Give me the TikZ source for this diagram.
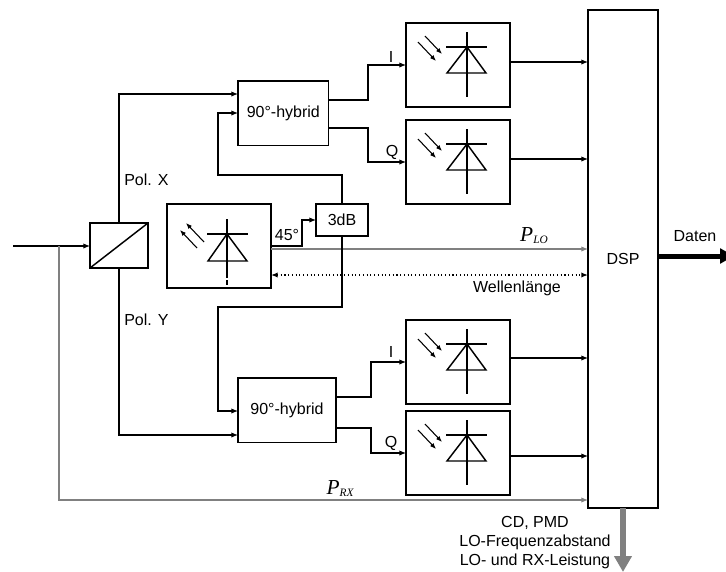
\documentclass[tikz,border=0pt]{standalone}
\usepackage{fontspec}
\setmainfont{Liberation Sans}
\newfontfamily\timesfont{Liberation Serif}
\usetikzlibrary{arrows.meta,positioning}
\newcommand{\powlab}[2]{{\timesfont\itshape\fontsize{16}{16}\selectfont #1\fontsize{8.5}{8.5}\selectfont\raisebox{-1.5pt}{#2}}}
\tikzset{
  rxdiode/.pic={
    \draw[diode] (61,9) -- (61,74);
    \draw[diode] (40,24) -- (81,24);
    \draw[diode] (61,24) -- (41,50) -- (80,50) -- cycle;
    \draw[ray] (19,13) -- (36,31);
    \draw[ray] (12,19) -- (30,38);
  },
  lodiode/.pic={
    \draw[diode] (60,15) -- (60,74);
    \draw[diode] (60,76) -- (60,81);
    \draw[diode] (40,30) -- (81,30);
    \draw[diode] (60,30) -- (41,57) -- (80,57) -- cycle;
    \draw[ray] (37,38) -- (19,19);
    \draw[ray] (30,44) -- (13,26);
  }
}
\begin{document}
\begin{tikzpicture}[
  x=0.75pt, y=-0.75pt,
  font=\fontsize{12}{14.25}\selectfont,
  box/.style={draw, line width=1.1pt, inner sep=0pt, outer sep=0pt, align=center},
  hybrid/.style={box, minimum width=68pt, minimum height=48.5pt},
  detbox/.style={box, minimum width=78pt, minimum height=63pt},
  diode/.style={line width=1.1pt},
  ray/.style={line width=0.8pt, -{Latex[length=4.5pt,width=3.5pt]}},
  arr/.style={line width=0.8pt, -{Latex[length=5pt,width=4pt]}},
  arrg/.style={arr, black!50},
  lab/.style={inner sep=0pt}
]
\useasboundingbox (0,0) rectangle (726,572);
% detectors
\node[detbox, anchor=north west] (dxi) at (406,23) {};
\node[detbox, below=9.75pt of dxi] (dxq) {};
\node[detbox, anchor=north west] (dyi) at (406,320) {};
\node[detbox, below=5.25pt of dyi] (dyq) {};
\foreach \d in {dxi,dxq,dyi,dyq}
  \pic at (\d.north west) {rxdiode};
% hybrids
\node[hybrid, anchor=north west] (hybx) at (238,81) {90°-hybrid};
\node[hybrid, anchor=north west, minimum width=73.5pt] (hyby) at (238,378) {90°-hybrid};
% middle row
\node[box, minimum width=43.5pt, minimum height=33.75pt, anchor=north west] (split) at (90,223) {};
\draw[line width=1.1pt] (split.south west) -- (split.north east);
\node[detbox, anchor=north west] (lo) at (167,204) {};
\pic at (lo.north west) {lodiode};
\node[box, minimum width=39pt, minimum height=24pt, anchor=north west] (db3) at (316,204) {3dB};
\node[box, minimum width=52.5pt, minimum height=373.5pt, anchor=north west] (dsp) at (588,10) {DSP};
\coordinate (rxin) at (13,246);
\coordinate (datenend) at (734,256);
\coordinate (mesend) at (623,572);
% input and polarisations
\draw[arr] (rxin) -- (split.west |- rxin);
\draw[arr] (split.north -| 119,0) |- (hybx.west |- 0,94);
\draw[arr] (split.south -| 119,0) |- (hyby.west |- 0,435);
% local oscillator
\draw[arrg] (lo.east |- 0,249) -- (dsp.west |- 0,249);
\draw[arr] (lo.east |- 0,246) -- (302,246) |- (db3.west |- 0,220);
\draw[arr] (db3.north -| 342,0) -- (342,175) -| (218,113) -- (hybx.west |- 0,113);
\draw[arr] (db3.south -| 342,0) -- (342,307) -| (218,411) -- (hyby.west |- 0,411);
\draw[arr, {Latex[length=5pt,width=4pt]}-{Latex[length=5pt,width=4pt]}, dotted, line width=1.1pt] (lo.east |- 0,275) -- (dsp.west |- 0,275);
\draw[arrg] (59,246) -- (59,500) -- (dsp.west |- 0,500);
% hybrid outputs
\draw[arr] (hybx.east |- 0,100) -- (368,100) |- (dxi.west |- 0,65);
\draw[arr] (hybx.east |- 0,128) -- (368,128) |- (dxq.west |- 0,162);
\draw[arr] (hyby.east |- 0,397) -- (371,397) |- (dyi.west |- 0,362);
\draw[arr] (hyby.east |- 0,428) -- (371,428) |- (dyq.west |- 0,453);
% to dsp
\draw[arr] (dxi.east |- 0,62) -- (dsp.west |- 0,62);
\draw[arr] (dxq.east |- 0,159) -- (dsp.west |- 0,159);
\draw[arr] (dyi.east |- 0,358) -- (dsp.west |- 0,358);
\draw[arr] (dyq.east |- 0,456) -- (dsp.west |- 0,456);
% outputs
\draw[line width=3.75pt, -{Triangle[length=10.5pt,width=11pt]}] (dsp.east |- datenend) -- (datenend);
\draw[line width=4.5pt, black!50, -{Triangle[length=12pt,width=12.75pt]}] (dsp.south -| mesend) -- (mesend);
% labels
\node[lab] (lxi) at (391,57) {I};
\node[lab] (lxq) at (392,152) {Q};
\node[lab] (lyi) at (391,352) {I};
\node[lab] (lyq) at (391,443) {Q};
\node[lab, anchor=west] (polx) at (124,180) {Pol. X};
\node[lab, anchor=west] (poly) at (124,320) {Pol. Y};
\node[lab] (l45) at (287,235) {45°};
\node[lab] (daten) at (695,236) {Daten};
\node[lab] (wl) at (517,288) {Wellenlänge};
\node[lab] (plo) at (534,236) {\powlab{P}{LO}};
\node[lab] (prx) at (340,489) {\powlab{P}{RX}};
\node[lab, align=center] (mes) at (535,543) {CD, PMD\\LO-Frequenzabstand\\LO- und RX-Leistung};
\end{tikzpicture}
\end{document}
